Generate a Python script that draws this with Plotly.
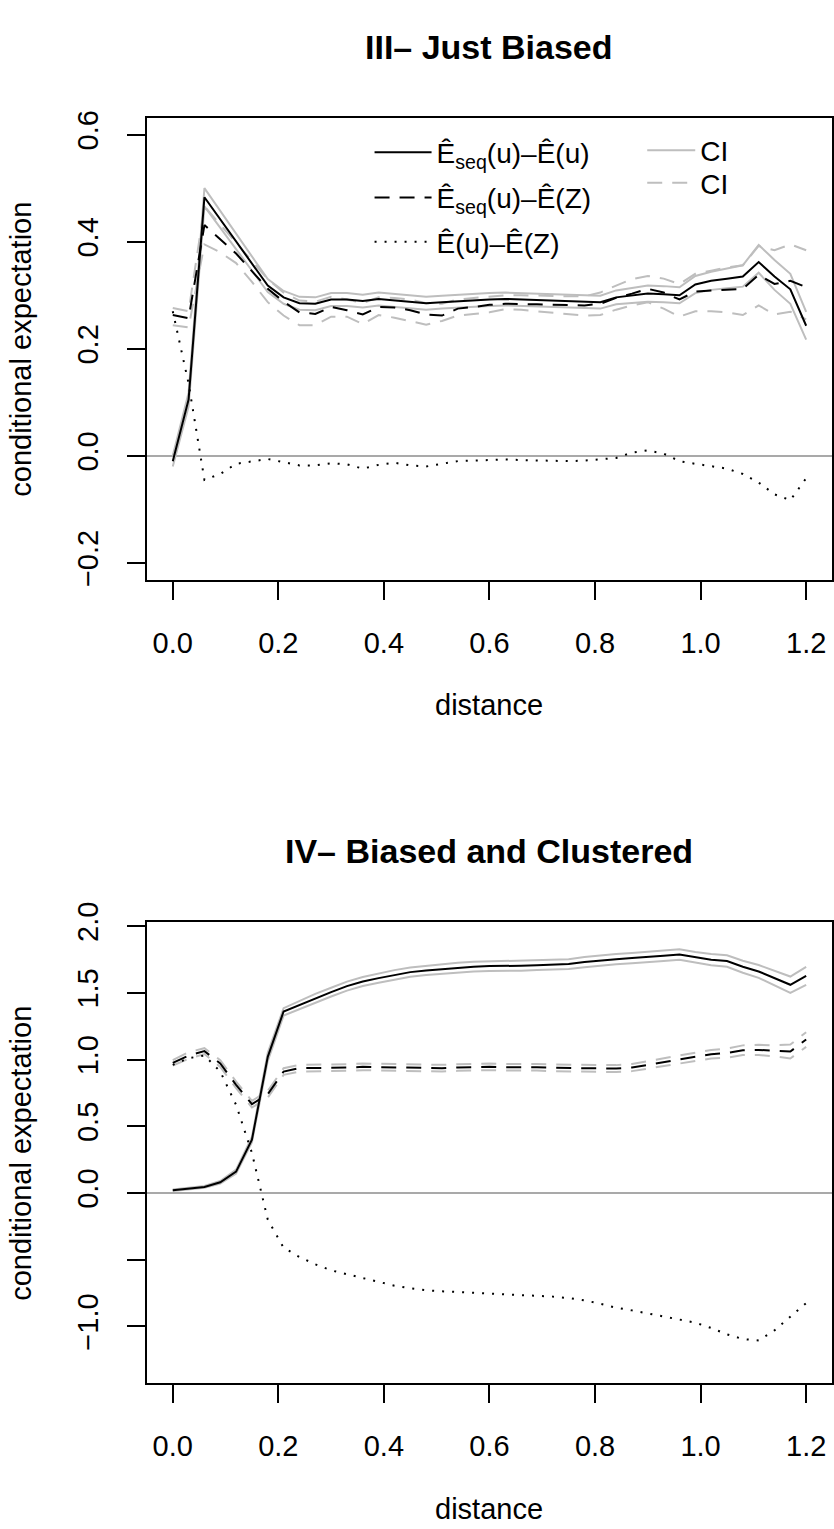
import plotly.graph_objects as go

# ---------------- data ----------------
distance = [0.00, 0.03, 0.06, 0.09, 0.12, 0.15, 0.18, 0.21, 0.24, 0.27,
            0.30, 0.33, 0.36, 0.39, 0.42, 0.45, 0.48, 0.51, 0.54, 0.57,
            0.60, 0.63, 0.66, 0.69, 0.72, 0.75, 0.78, 0.81, 0.84, 0.87,
            0.90, 0.93, 0.96, 0.99, 1.02, 1.05, 1.08, 1.11, 1.14, 1.17, 1.20]

# III - Just Biased
top_seq_u = [-0.010, 0.105, 0.483, 0.442, 0.400, 0.359, 0.318, 0.296, 0.285, 0.284,
             0.292, 0.292, 0.289, 0.293, 0.290, 0.288, 0.285, 0.287, 0.289, 0.290,
             0.292, 0.293, 0.292, 0.291, 0.290, 0.289, 0.288, 0.287, 0.296, 0.300,
             0.303, 0.302, 0.300, 0.320, 0.327, 0.331, 0.335, 0.362, 0.335, 0.311, 0.243]
top_seq_u_hi = [0.000, 0.118, 0.500, 0.458, 0.415, 0.373, 0.330, 0.308, 0.297, 0.296,
                0.304, 0.304, 0.301, 0.305, 0.302, 0.300, 0.297, 0.299, 0.301, 0.302,
                0.304, 0.305, 0.304, 0.303, 0.302, 0.301, 0.300, 0.299, 0.309, 0.314,
                0.318, 0.317, 0.315, 0.336, 0.344, 0.350, 0.356, 0.394, 0.366, 0.340, 0.269]
top_seq_u_lo = [-0.020, 0.092, 0.466, 0.426, 0.385, 0.345, 0.306, 0.284, 0.273, 0.272,
                0.280, 0.280, 0.277, 0.281, 0.278, 0.276, 0.273, 0.275, 0.277, 0.278,
                0.280, 0.281, 0.280, 0.279, 0.278, 0.277, 0.276, 0.275, 0.283, 0.286,
                0.288, 0.287, 0.285, 0.304, 0.310, 0.313, 0.316, 0.342, 0.310, 0.284, 0.217]
top_seq_z = [0.263, 0.257, 0.431, 0.405, 0.378, 0.345, 0.312, 0.288, 0.268, 0.265,
             0.278, 0.272, 0.264, 0.278, 0.277, 0.272, 0.264, 0.262, 0.275, 0.278,
             0.282, 0.284, 0.284, 0.283, 0.282, 0.281, 0.281, 0.284, 0.295, 0.303,
             0.312, 0.305, 0.292, 0.307, 0.309, 0.310, 0.312, 0.338, 0.321, 0.327, 0.315]
top_seq_z_hi = [0.276, 0.270, 0.466, 0.432, 0.398, 0.364, 0.330, 0.305, 0.290, 0.288,
                0.297, 0.292, 0.285, 0.296, 0.295, 0.292, 0.285, 0.284, 0.292, 0.295,
                0.298, 0.300, 0.300, 0.299, 0.298, 0.298, 0.298, 0.305, 0.318, 0.330,
                0.336, 0.331, 0.321, 0.340, 0.346, 0.352, 0.356, 0.392, 0.384, 0.395, 0.384]
top_seq_z_lo = [0.244, 0.240, 0.395, 0.380, 0.360, 0.325, 0.287, 0.262, 0.244, 0.244,
                0.260, 0.260, 0.246, 0.263, 0.258, 0.252, 0.245, 0.252, 0.262, 0.265,
                0.268, 0.274, 0.273, 0.270, 0.267, 0.264, 0.262, 0.263, 0.273, 0.281,
                0.287, 0.275, 0.260, 0.270, 0.270, 0.268, 0.263, 0.281, 0.264, 0.269, 0.255]
top_u_z = [0.270, 0.135, -0.045, -0.034, -0.015, -0.011, -0.006, -0.012, -0.018, -0.018,
           -0.014, -0.016, -0.024, -0.017, -0.013, -0.018, -0.020, -0.015, -0.010, -0.009,
           -0.008, -0.007, -0.008, -0.009, -0.010, -0.010, -0.009, -0.007, -0.004, 0.006,
           0.010, 0.004, -0.010, -0.015, -0.019, -0.024, -0.034, -0.050, -0.072, -0.083, -0.042]

# IV - Biased and Clustered
bot_seq_u = [0.020, 0.030, 0.045, 0.080, 0.160, 0.400, 1.020, 1.360, 1.410, 1.460,
             1.505, 1.550, 1.585, 1.610, 1.635, 1.655, 1.668, 1.678, 1.690, 1.696,
             1.700, 1.700, 1.703, 1.707, 1.711, 1.715, 1.730, 1.742, 1.752, 1.760,
             1.767, 1.778, 1.787, 1.765, 1.748, 1.738, 1.695, 1.660, 1.610, 1.560, 1.627]
bot_seq_u_hi = [0.025, 0.036, 0.052, 0.090, 0.175, 0.420, 1.050, 1.385, 1.440, 1.492,
                1.538, 1.584, 1.619, 1.645, 1.670, 1.690, 1.703, 1.714, 1.726, 1.732,
                1.736, 1.737, 1.740, 1.744, 1.748, 1.752, 1.768, 1.780, 1.790, 1.798,
                1.806, 1.817, 1.827, 1.806, 1.790, 1.781, 1.740, 1.708, 1.662, 1.622, 1.694]
bot_seq_u_lo = [0.015, 0.024, 0.038, 0.070, 0.145, 0.380, 0.990, 1.330, 1.378, 1.428,
                1.472, 1.516, 1.551, 1.575, 1.600, 1.620, 1.633, 1.642, 1.654, 1.660,
                1.664, 1.663, 1.666, 1.670, 1.674, 1.678, 1.692, 1.704, 1.714, 1.722,
                1.728, 1.739, 1.747, 1.724, 1.706, 1.695, 1.650, 1.612, 1.558, 1.500, 1.560]
bot_seq_z = [0.975, 1.030, 1.063, 0.970, 0.810, 0.665, 0.740, 0.910, 0.935, 0.935,
             0.938, 0.940, 0.945, 0.942, 0.940, 0.938, 0.935, 0.935, 0.940, 0.945,
             0.945, 0.942, 0.943, 0.942, 0.938, 0.936, 0.936, 0.932, 0.932, 0.940,
             0.960, 0.985, 1.005, 1.025, 1.040, 1.048, 1.070, 1.072, 1.065, 1.060, 1.150]
bot_seq_z_hi = [0.995, 1.055, 1.085, 0.995, 0.835, 0.690, 0.765, 0.935, 0.960, 0.960,
                0.963, 0.965, 0.970, 0.967, 0.965, 0.963, 0.960, 0.960, 0.965, 0.970,
                0.970, 0.967, 0.968, 0.967, 0.963, 0.961, 0.961, 0.957, 0.958, 0.967,
                0.988, 1.014, 1.035, 1.056, 1.072, 1.082, 1.106, 1.110, 1.106, 1.112, 1.205]
bot_seq_z_lo = [0.955, 1.005, 1.041, 0.945, 0.785, 0.640, 0.715, 0.885, 0.910, 0.910,
                0.913, 0.915, 0.920, 0.917, 0.915, 0.913, 0.910, 0.910, 0.915, 0.920,
                0.920, 0.917, 0.918, 0.917, 0.913, 0.911, 0.911, 0.907, 0.906, 0.913,
                0.932, 0.956, 0.975, 0.994, 1.008, 1.014, 1.034, 1.034, 1.024, 1.008, 1.095]
bot_u_z = [0.960, 1.010, 1.030, 0.910, 0.660, 0.300, -0.200, -0.410, -0.480, -0.535,
           -0.580, -0.610, -0.640, -0.665, -0.695, -0.715, -0.730, -0.737, -0.743, -0.748,
           -0.752, -0.757, -0.763, -0.770, -0.777, -0.788, -0.805, -0.830, -0.860, -0.880,
           -0.902, -0.925, -0.948, -0.972, -1.012, -1.060, -1.095, -1.105, -1.030, -0.930, -0.825]

x_ticks = [0.0, 0.2, 0.4, 0.6, 0.8, 1.0, 1.2]
x_tick_labels = ["0.0", "0.2", "0.4", "0.6", "0.8", "1.0", "1.2"]
top_y_ticks = [-0.2, 0.0, 0.2, 0.4, 0.6]
top_y_tick_labels = ["\u22120.2", "0.0", "0.2", "0.4", "0.6"]
bot_y_ticks = [-1.0, -0.5, 0.0, 0.5, 1.0, 1.5, 2.0]
bot_y_tick_labels = ["\u22121.0", "", "0.0", "0.5", "1.0", "1.5", "2.0"]

titles = ["III\u2013 Just Biased", "IV\u2013 Biased and Clustered"]
name_seq_u = "\u00ca<sub>seq</sub>(u)\u2013\u00ca(u)"
name_seq_z = "\u00ca<sub>seq</sub>(u)\u2013\u00ca(Z)"
name_u_z = "\u00ca(u)\u2013\u00ca(Z)"

# ---------------- styling ----------------
W, H = 834, 1529
FONT = "Liberation Sans, Arial, Helvetica, sans-serif"
GRAY = "#BEBEBE"
DASH = "15px,10px"
DOT = "2px,8px"
LW = 2


def fx(p):
    return p / W


def fy(p):
    return 1 - p / H


fig = go.Figure()

panels = [
    dict(xa="x", ya="y", s=top_seq_u, sh=top_seq_u_hi, sl=top_seq_u_lo,
         z=top_seq_z, zh=top_seq_z_hi, zl=top_seq_z_lo, d=top_u_z, legend=True),
    dict(xa="x2", ya="y2", s=bot_seq_u, sh=bot_seq_u_hi, sl=bot_seq_u_lo,
         z=bot_seq_z, zh=bot_seq_z_hi, zl=bot_seq_z_lo, d=bot_u_z, legend=False),
]

for p in panels:
    lg = p["legend"]
    common = dict(x=distance, mode="lines", xaxis=p["xa"], yaxis=p["ya"], hoverinfo="skip")
    # confidence intervals (gray)
    fig.add_trace(go.Scatter(y=p["sh"], line=dict(color=GRAY, width=LW), name="CI",
                             showlegend=lg, legend="legend4", **common))
    fig.add_trace(go.Scatter(y=p["sl"], line=dict(color=GRAY, width=LW), name="CI",
                             showlegend=False, **common))
    fig.add_trace(go.Scatter(y=p["zh"], line=dict(color=GRAY, width=LW, dash=DASH), name="CI",
                             showlegend=lg, legend="legend5", **common))
    fig.add_trace(go.Scatter(y=p["zl"], line=dict(color=GRAY, width=LW, dash=DASH), name="CI",
                             showlegend=False, **common))
    # estimates (black)
    fig.add_trace(go.Scatter(y=p["s"], line=dict(color="black", width=LW), name=name_seq_u,
                             showlegend=lg, legend="legend", **common))
    fig.add_trace(go.Scatter(y=p["z"], line=dict(color="black", width=LW, dash=DASH), name=name_seq_z,
                             showlegend=lg, legend="legend2", **common))
    fig.add_trace(go.Scatter(y=p["d"], line=dict(color="black", width=LW, dash=DOT), name=name_u_z,
                             showlegend=lg, legend="legend3", **common))

axis_common = dict(showline=True, mirror=True, linecolor="black", linewidth=LW,
                   ticks="outside", ticklen=18, tickwidth=LW, tickcolor="black",
                   showgrid=False, tickfont=dict(family=FONT, size=29, color="black"))

x_dom = [fx(147.6), fx(832.5)]
top_dom = [fy(570), fy(99.3)]
bot_dom = [fy(1388), fy(918.3)]

fig.update_layout(
    xaxis=dict(domain=x_dom, anchor="y", range=[-0.048, 1.248], tickvals=x_ticks,
               ticktext=x_tick_labels, zeroline=False, ticklabelstandoff=18, **axis_common),
    yaxis=dict(domain=top_dom, anchor="x", range=[-0.232, 0.632], tickvals=top_y_ticks,
               ticktext=top_y_tick_labels, tickangle=-90, zeroline=True,
               zerolinecolor="#A9A9A9", zerolinewidth=2, ticklabelstandoff=18, **axis_common),
    xaxis2=dict(domain=x_dom, anchor="y2", range=[-0.048, 1.248], tickvals=x_ticks,
                ticktext=x_tick_labels, zeroline=False, ticklabelstandoff=18, **axis_common),
    yaxis2=dict(domain=bot_dom, anchor="x2", range=[-1.428, 2.03], tickvals=bot_y_ticks,
                ticktext=bot_y_tick_labels, tickangle=-90, zeroline=True,
                zerolinecolor="#A9A9A9", zerolinewidth=2, ticklabelstandoff=18, **axis_common),
)

leg_common = dict(font=dict(family=FONT, size=28, color="black"), bgcolor="rgba(0,0,0,0)",
                  borderwidth=0, xanchor="left", yanchor="middle")
fig.update_layout(
    legend=dict(x=fx(370), y=fy(135), itemwidth=57, **leg_common),
    legend2=dict(x=fx(370), y=fy(181), itemwidth=57, **leg_common),
    legend3=dict(x=fx(370), y=fy(226), itemwidth=57, **leg_common),
    legend4=dict(x=fx(643), y=fy(133), itemwidth=48, **leg_common),
    legend5=dict(x=fx(643), y=fy(166), itemwidth=48, **leg_common),
)

annotations = []
xc = (x_dom[0] + x_dom[1]) / 2
for title, ty in zip(titles, [27, 846]):
    annotations.append(dict(text="<b>" + title + "</b>", x=xc, y=fy(ty), xref="paper", yref="paper",
                            showarrow=False, xanchor="center", yanchor="middle",
                            font=dict(family=FONT, size=34, color="black")))
for ly in [697.5, 1516]:
    annotations.append(dict(text="distance", x=xc, y=fy(ly), xref="paper", yref="paper",
                            showarrow=False, xanchor="center", yanchor="middle",
                            font=dict(family=FONT, size=29, color="black")))
for (d0, d1) in [top_dom, bot_dom]:
    annotations.append(dict(text="conditional expectation", x=fx(21), y=(d0 + d1) / 2,
                            xref="paper", yref="paper", showarrow=False, textangle=-90,
                            xanchor="center", yanchor="middle",
                            font=dict(family=FONT, size=29, color="black")))

fig.update_layout(
    width=W, height=H, margin=dict(l=0, r=0, t=0, b=0),
    paper_bgcolor="white", plot_bgcolor="white",
    annotations=annotations, showlegend=True,
)

fig.write_html("out.html")
